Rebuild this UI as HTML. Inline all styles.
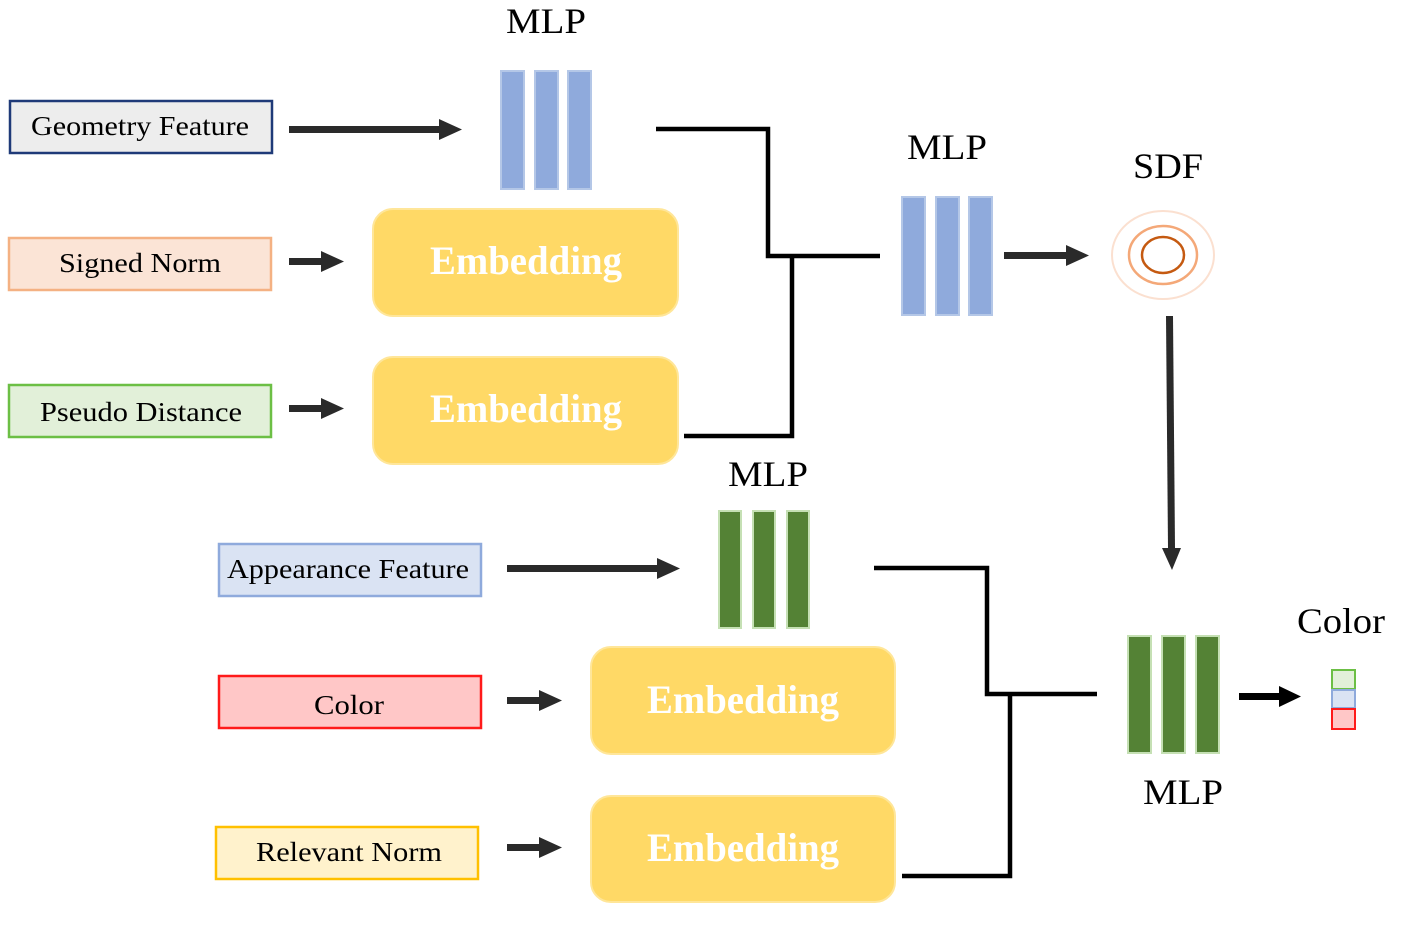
<!DOCTYPE html>
<html><head><meta charset="utf-8"><style>
html,body{margin:0;padding:0;background:#fff;}
svg{display:block;}
text{font-family:"Liberation Serif",serif;}
</style></head><body>
<svg width="1411" height="930" viewBox="0 0 1411 930" xmlns="http://www.w3.org/2000/svg">
<defs>
<marker id="ah" markerWidth="10" markerHeight="10" refX="0" refY="5" orient="auto" markerUnits="userSpaceOnUse" viewBox="0 0 10 10">
</marker>
</defs>
<!-- input boxes -->
<rect x="10" y="101" width="262" height="52" fill="#ededed" stroke="#1f3a78" stroke-width="2.5"/>
<text x="140" y="135" font-size="27" text-anchor="middle" textLength="218" lengthAdjust="spacingAndGlyphs">Geometry Feature</text>
<rect x="9" y="238" width="262" height="52" fill="#fbe4d6" stroke="#f4b183" stroke-width="2.5"/>
<text x="140" y="272" font-size="27" text-anchor="middle" textLength="162" lengthAdjust="spacingAndGlyphs">Signed Norm</text>
<rect x="9" y="385" width="262" height="52" fill="#e2f0d9" stroke="#6cbf45" stroke-width="2.5"/>
<text x="141" y="421" font-size="27" text-anchor="middle" textLength="202" lengthAdjust="spacingAndGlyphs">Pseudo Distance</text>
<rect x="219" y="544" width="262" height="52" fill="#dae3f3" stroke="#8faadc" stroke-width="2.5"/>
<text x="348" y="578" font-size="27" text-anchor="middle" textLength="242" lengthAdjust="spacingAndGlyphs">Appearance Feature</text>
<rect x="219" y="676" width="262" height="52" fill="#ffc7c7" stroke="#ff1a1a" stroke-width="2.5"/>
<text x="349" y="714" font-size="27" text-anchor="middle" textLength="70" lengthAdjust="spacingAndGlyphs">Color</text>
<rect x="216" y="827" width="262" height="52" fill="#fff2cc" stroke="#ffc000" stroke-width="2.5"/>
<text x="349" y="861" font-size="27" text-anchor="middle" textLength="186" lengthAdjust="spacingAndGlyphs">Relevant Norm</text>

<!-- arrows (gray) -->
<g fill="#2a2a2a">
<rect x="289" y="126" width="150" height="7"/><polygon points="439,119 462,129.5 439,140"/>
<rect x="289" y="258" width="32" height="7"/><polygon points="321,251 344,261.5 321,272"/>
<rect x="289" y="405" width="32" height="7"/><polygon points="321,398 344,408.5 321,419"/>
<rect x="507" y="565" width="150" height="7"/><polygon points="657,558 680,568.5 657,579"/>
<rect x="507" y="697" width="32" height="7"/><polygon points="539,690 562,700.5 539,711"/>
<rect x="507" y="844" width="32" height="7"/><polygon points="539,837 562,847.5 539,858"/>
<rect x="1004" y="252" width="62" height="7"/><polygon points="1066,245 1089,255.5 1066,266"/>
<polygon points="1166,316 1173,316 1175,548 1168,548"/><polygon points="1162,548 1181,548 1172,570"/>
</g>
<g fill="#000">
<rect x="1239" y="693" width="40" height="7"/><polygon points="1279,686 1301,696.5 1279,707"/>
</g>

<!-- connectors -->
<g fill="none" stroke="#000" stroke-width="4.5">
<polyline points="656,129 768,129 768,256 880,256"/>
<polyline points="684,436 792,436 792,256"/>
<polyline points="874,568 987,568 987,694 1097,694"/>
<polyline points="902,876 1010,876 1010,694"/>
</g>

<!-- blue MLPs -->
<g fill="#8faadc" stroke="#b4c7e7" stroke-width="2">
<rect x="501" y="71" width="23" height="118"/><rect x="535" y="71" width="23" height="118"/><rect x="568" y="71" width="23" height="118"/>
<rect x="902" y="197" width="23" height="118"/><rect x="936" y="197" width="23" height="118"/><rect x="969" y="197" width="23" height="118"/>
</g>
<!-- green MLPs -->
<g fill="#548235" stroke="#c5e0b4" stroke-width="2">
<rect x="719" y="511" width="22" height="117"/><rect x="753" y="511" width="22" height="117"/><rect x="787" y="511" width="22" height="117"/>
<rect x="1128" y="636" width="23" height="117"/><rect x="1162" y="636" width="23" height="117"/><rect x="1196" y="636" width="23" height="117"/>
</g>

<!-- embeddings -->
<g fill="#ffd966" stroke="#ffe699" stroke-width="2">
<rect x="373" y="209" width="305" height="107" rx="20"/>
<rect x="373" y="357" width="305" height="107" rx="20"/>
<rect x="591" y="647" width="304" height="107" rx="20"/>
<rect x="591" y="796" width="304" height="106" rx="20"/>
</g>
<g fill="#fff" font-size="40" font-weight="bold" text-anchor="middle">
<text x="526" y="274" textLength="192" lengthAdjust="spacingAndGlyphs">Embedding</text>
<text x="526" y="422" textLength="192" lengthAdjust="spacingAndGlyphs">Embedding</text>
<text x="743" y="713" textLength="192" lengthAdjust="spacingAndGlyphs">Embedding</text>
<text x="743" y="861" textLength="192" lengthAdjust="spacingAndGlyphs">Embedding</text>
</g>

<!-- labels -->
<g font-size="36" text-anchor="middle" fill="#000">
<text x="546" y="33" textLength="80" lengthAdjust="spacingAndGlyphs">MLP</text>
<text x="947" y="159" textLength="80" lengthAdjust="spacingAndGlyphs">MLP</text>
<text x="768" y="486" textLength="80" lengthAdjust="spacingAndGlyphs">MLP</text>
<text x="1183" y="804" textLength="80" lengthAdjust="spacingAndGlyphs">MLP</text>
<text x="1168" y="178" textLength="70" lengthAdjust="spacingAndGlyphs">SDF</text>
<text x="1341" y="633" textLength="88" lengthAdjust="spacingAndGlyphs">Color</text>
</g>

<!-- SDF -->
<ellipse cx="1163" cy="255" rx="51" ry="44" fill="none" stroke="#fbe0d0" stroke-width="2"/>
<ellipse cx="1163" cy="255" rx="34" ry="29" fill="none" stroke="#f4a878" stroke-width="2.5"/>
<ellipse cx="1163" cy="255" rx="21" ry="18" fill="none" stroke="#c55a11" stroke-width="2.5"/>

<!-- color stack -->
<rect x="1332" y="670" width="23" height="19" fill="#e2f0d9" stroke="#6cbf45" stroke-width="2"/>
<rect x="1332" y="690" width="23" height="18" fill="#dae3f3" stroke="#8faadc" stroke-width="2"/>
<rect x="1332" y="709" width="23" height="20" fill="#ffc7c7" stroke="#ff1a1a" stroke-width="2"/>
</svg>
</body></html>
